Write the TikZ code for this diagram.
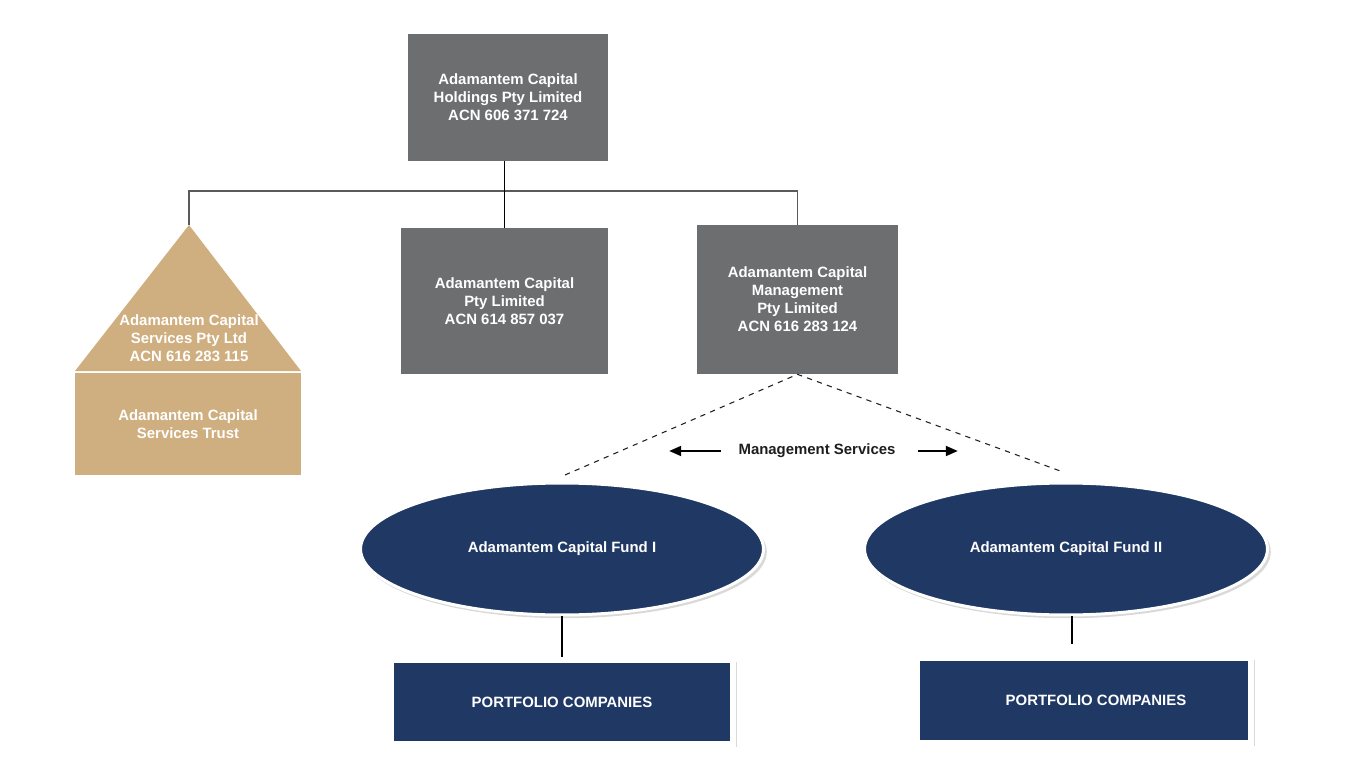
\documentclass[tikz,border=0pt]{standalone}
\usepackage{fontspec}
\setmainfont{Liberation Sans}
\usetikzlibrary{arrows.meta, shapes.geometric, shadows}
\definecolor{cgrey}{HTML}{6D6E70}
\definecolor{ctan}{HTML}{CFAE7F}
\definecolor{cnavy}{HTML}{203864}
\definecolor{cbar}{HTML}{5A5A5A}
\definecolor{ctext}{HTML}{1E1E1E}
\tikzset{
  every picture/.style={font=\fontsize{8.5}{10.2}\selectfont\bfseries},
  entity/.style={fill=#1, text=white, align=center, inner sep=0pt},
  entity/.default=cgrey,
  fund/.style={ellipse, fill=cnavy, draw=white, line width=0.06cm, text=white, minimum width=8.06cm, minimum height=2.64cm,
    drop shadow={shadow xshift=1.2pt, shadow yshift=-1.6pt, shadow scale=1.006, opacity=0.3}},
  portfolio/.style={fill=cnavy, draw=white, line width=0.12cm, text=white, inner sep=0pt,
    drop shadow={shadow xshift=1.2pt, shadow yshift=-1.6pt, shadow scale=1.01, opacity=0.3}},
  link/.style={draw=black, line width=0.8pt},
  bar/.style={draw=cbar, line width=0.6pt},
  mgmtlink/.style={draw=ctext, dashed, line width=0.6pt},
  arrow/.style={-{Triangle[length=0.24cm, width=0.2cm]}, draw=black, line width=1.1pt},
  label/.style={text=ctext, inner sep=0pt},
}
\begin{document}
\begin{tikzpicture}[x=0.02cm, y=-0.02cm]
  \useasboundingbox (0,0) rectangle (1350,757);
  % holding company and its subsidiaries
  \node[entity, minimum width=4cm, minimum height=2.54cm] (hold) at (508,97.5) {Adamantem Capital\\Holdings Pty Limited\\ACN 606 371 724};
  \node[entity, minimum width=4.14cm, minimum height=2.92cm] (cap) at (504.5,301) {Adamantem Capital\\Pty Limited\\ACN 614 857 037};
  \node[entity, minimum width=4.02cm, minimum height=2.98cm] (mgmt) at (797.5,299.5) {Adamantem Capital\\Management\\Pty Limited\\ACN 616 283 124};
  % services trust: triangle on a box
  \coordinate (apex) at (189,225);
  \fill[ctan] (apex) -- (301,371) -- (75,371) -- cycle;
  \node[label, text=white, align=center] (svc) at (189,338) {Adamantem Capital\\Services Pty Ltd\\ACN 616 283 115};
  \node[entity=ctan, minimum width=4.52cm, minimum height=2.04cm] (trust) at (188,424) {Adamantem Capital\\Services Trust};
  \coordinate (barlevel) at (504,191);
  \draw[bar] (apex) -- (apex |- barlevel) -| (mgmt.north);
  \draw[link] (cap.north |- hold.south) -- (cap.north);
  % funds
  \node[fund] (fund1) at (562,549) {Adamantem Capital Fund I};
  \node[fund] (fund2) at (1066,549) {Adamantem Capital Fund II};
  \coordinate (f1top) at (565,475);
  \coordinate (f2top) at (1063,472);
  \draw[mgmtlink] (f1top) -- (mgmt.south) -- (f2top);
  \node[label] (ms) at (817,451) {Management Services};
  \draw[arrow] ([xshift=-0.34cm]ms.west) -- ++(-52,0);
  \draw[arrow] ([xshift=0.44cm]ms.east) -- ++(40,0);
  % portfolio companies
  \node[portfolio, minimum width=6.84cm, minimum height=1.68cm] (port1) at (562,702) {PORTFOLIO COMPANIES};
  \node[portfolio, minimum width=6.68cm, minimum height=1.7cm] (port2) at (1084,700.5) {\hspace*{0.48cm}PORTFOLIO COMPANIES};
  \draw[link] (fund1.south) -- (port1.north);
  \draw[link] ([xshift=0.12cm]fund2.south) -- ++(0,28);
\end{tikzpicture}
\end{document}
